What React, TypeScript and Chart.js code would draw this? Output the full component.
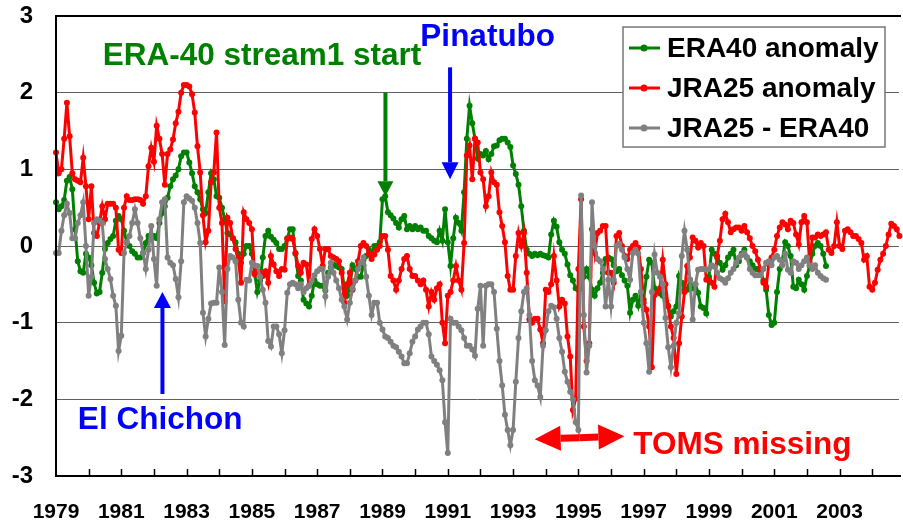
import React, { useEffect, useRef } from 'react';
import { Chart, registerables } from 'chart.js';

Chart.register(...registerables);

const START_YEAR = 1979;
const X_MAX = 2004.82;
const Y_MIN = -3;
const Y_MAX = 3;
const X_LABEL_YEARS = [1979, 1981, 1983, 1985, 1987, 1989, 1991, 1993, 1995, 1997, 1999, 2001, 2003];
const SERIES_LABELS = ['ERA40 anomaly', 'JRA25 anomaly', 'JRA25 - ERA40'];
const SERIES_COLORS = ['#008000', '#ff0000', '#808080'];

// ERA40 anomaly, monthly Jan 1979 .. Aug 2002
const ERA40 = [
  0.57, 0.48, 0.52, 0.6, 0.85, 0.9, 0.74, 0.22, -0.2, -0.33, -0.35, -0.1,
  -0.15, -0.25, -0.48, -0.62, -0.6, -0.35, -0.04, 0.04, 0.09, 0.13, 0.33, 0.39,
  0.35, 0.2, 0.05, 0.0, -0.07, -0.1, -0.15, -0.15, -0.09, 0.04, 0.13, 0.09,
  0.13, 0.1, 0.3, 0.43, 0.52, 0.63, 0.78, 0.87, 0.92, 1.0, 1.17, 1.22,
  1.22, 1.09, 0.95, 0.78, 0.7, 0.61, 0.48, 0.43, 0.7, 0.95, 0.87, 0.65,
  0.63, 0.5, 0.35, 0.17, 0.15, 0.1, 0.05, -0.1, -0.22, -0.1, 0.0, 0.0,
  -0.1, -0.35, -0.6, -0.45, -0.15, 0.13, 0.2, 0.12, 0.08, 0.04, -0.04, -0.04,
  0.0, 0.1, 0.22, 0.22, -0.1, -0.39, -0.45, -0.7, -0.75, -0.79, -0.65, -0.45,
  -0.5, -0.52, -0.52, -0.58, -0.35, -0.28, -0.24, -0.26, -0.28, -0.3, -0.55, -0.65,
  -0.55, -0.25, -0.3, -0.4, -0.4, -0.25, -0.13, -0.05, -0.1, 0.0, 0.0, 0.05,
  0.61, 0.65, 0.44, 0.4, 0.36, 0.3, 0.24, 0.35, 0.39, 0.22, 0.26, 0.22,
  0.26, 0.22, 0.24, 0.2, 0.2, 0.13, 0.1, 0.07, 0.05, 0.2, 0.07, 0.48,
  0.05, -0.26, 0.1, 0.37, 0.3, 0.2, 0.7, 1.4, 1.83, 1.6, 1.4, 1.14,
  1.2, 1.18, 1.24, 1.13, 1.2, 1.3, 1.31, 1.38, 1.4, 1.4, 1.35, 1.29,
  1.05, 0.94, 0.8, 0.52, 0.2, -0.05, -0.1, -0.13, -0.1, -0.12, -0.1, -0.12,
  -0.13, -0.15, 0.15, 0.33, 0.25, 0.05, -0.05, -0.1, -0.24, -0.38, -0.45, -0.55,
  -0.57, -0.55, -0.4, -0.3, -0.4, -0.57, -0.65, -0.55, -0.48, -0.35, -0.17, -0.15,
  -0.17, -0.25, -0.33, -0.3, -0.38, -0.45, -0.52, -0.87, -0.7, -0.65, -0.78, -0.6,
  -0.7, -0.4, -0.18, -0.22, -0.55, -0.6, -0.62, -0.65, -0.7, -0.78, -0.92, -0.85,
  -0.79, -0.39, -0.48, -0.57, -0.57, -0.44, -0.55, -0.5, -0.61, -0.79, -0.81, -0.88,
  -0.4, -0.05, -0.1, -0.15, -0.22, -0.31, -0.25, -0.15, -0.1, -0.05, -0.25, -0.2,
  -0.1, -0.05, -0.15, -0.2, -0.25, -0.3, -0.3, -0.35, -0.45, -0.57, -0.9, -1.03,
  -1.0, -0.6, -0.3, -0.18, 0.05, 0.0, -0.13, -0.53, -0.55, -0.44, -0.5, -0.57,
  -0.39, -0.26, -0.1, 0.0, 0.04, 0.0, -0.1, -0.26,
];

// JRA25 anomaly, monthly Jan 1979 .. Dec 2004
const JRA25 = [
  1.22, 0.95, 1.0, 1.4, 1.87, 1.43, 0.95, 0.87, 0.85, 0.83, 1.15, 0.78,
  0.35, 0.78, 0.17, 0.13, 0.3, 0.52, 0.35, 0.55, 0.55, 0.55, 0.5, -0.05,
  -0.09, 0.5, 0.65, 0.6, 0.6, 0.61, 0.61, 0.6, 0.55, 0.65, 1.04, 1.28,
  1.1, 1.57, 1.4, 1.2, 0.8, 1.2, 1.26, 1.39, 1.6, 1.75, 2.0, 2.1,
  2.1, 2.08, 1.98, 1.74, 1.3, 0.96, 0.4, 0.05, 0.2, 0.83, 0.96, 1.48,
  0.5, 0.3, -0.72, 0.37, 0.3, 0.1, -0.04, -0.17, -0.48, 0.44, 0.35, 0.3,
  0.22, -0.37, -0.33, -0.35, -0.39, -0.33, -0.48, -0.13, -0.24, -0.33, -0.39, -0.3,
  -0.31, 0.09, 0.11, 0.09, -0.09, -0.26, -0.35, -0.22, -0.24, -0.52, 0.09, 0.22,
  0.13, -0.04, -0.26, -0.04, -0.04, -0.13, -0.15, -0.17, -0.2, -0.35, -0.74, -0.5,
  -0.35, -0.57, -0.45, -0.2, 0.0, 0.04, 0.0, -0.1, -0.17, -0.11, -0.05, 0.0,
  0.13, 0.13, -0.05, -0.39, -0.45, -0.57, -0.45, -0.3, -0.17, -0.13, -0.3, -0.39,
  -0.39, -0.45, -0.5, -0.45, -0.57, -0.79, -0.6, -0.7, -0.55, -0.5, -1.0, -1.27,
  -0.65, -0.6, -0.45, -0.26, -0.45, -0.57, 0.04, 1.18, 1.31, 0.87, 1.4, 1.35,
  0.96, 0.87, 0.52, 0.65, 0.96, 0.83, 0.8, 0.44, 0.26, 0.05, -0.39, -0.57,
  -0.57, -0.13, 0.17, 0.0, 0.17, -0.35, -0.96, -1.0, -0.95, -0.95, -1.09, -1.27,
  -0.57, -0.6, -0.5, -0.13, -0.45, -0.79, -0.7, -0.75, -1.18, -1.44, -2.14, -1.99,
  -0.3, 0.61, -1.05, -1.5, -1.27, 0.22, -0.09, 0.17, 0.2, 0.26, 0.26, -0.35,
  -0.35, -0.48, 0.13, 0.17, 0.0, -0.13, -0.17, -0.05, 0.0, 0.04, -0.02, -0.3,
  -0.74, -0.83, -1.05, -1.58, -0.64, -0.6, -0.55, -0.18, -0.5, -0.79, -1.05, -1.2,
  -1.67, -1.27, -0.92, -0.6, -0.26, -0.15, 0.11, 0.07, -0.02, 0.04, 0.0, -0.44,
  -0.44, -0.48, -0.53, -0.13, 0.07, 0.35, 0.42, 0.31, 0.18, 0.22, 0.24, 0.24,
  0.2, 0.26, 0.18, 0.1, 0.0, -0.07, -0.18, -0.31, -0.48, -0.53, -0.24, -0.15,
  -0.05, 0.13, 0.24, 0.31, 0.28, 0.22, 0.33, 0.3, 0.15, 0.02, 0.31, 0.39,
  0.31, -0.22, 0.11, 0.11, 0.15, 0.13, 0.15, 0.18, -0.05, -0.09, 0.0, 0.31,
  0.0, -0.04, 0.2, 0.22, 0.18, 0.13, 0.13, 0.09, 0.04, -0.18, -0.13, -0.53,
  -0.57, -0.48, -0.31, -0.18, -0.1, 0.0, 0.15, 0.29, 0.26, 0.22, 0.13, 0.13,
];

// JRA25 - ERA40, monthly Jan 1979 .. Aug 2002
const DIFF = [
  -0.09, -0.09, 0.2, 0.4, 0.55, 0.43, 0.1, 0.1, 0.3, 0.4, 0.57, 0.0,
  -0.65, -0.4, 0.3, 0.35, 0.33, 0.3, -0.17, -0.3, -0.43, -0.65, -0.78, -1.37,
  -1.17, -0.09, 0.05, 0.13, 0.3, 0.48, 0.3, 0.1, -0.09, -0.3, -0.05, 0.26,
  -0.17, -0.52, 0.35, 0.57, 0.61, -0.15, -0.22, -0.25, -0.43, -0.67, -0.2, 0.57,
  0.65, 0.62, 0.59, 0.5, 0.3, 0.04, -0.87, -1.18, -0.95, -0.75, -0.74, -0.74,
  -0.28, -0.6, -1.29, -0.3, -0.13, -0.15, -0.2, -0.7, -1.0, -1.05, -0.44, -0.45,
  -0.22, -0.25, -0.26, -0.4, -0.57, -0.74, -1.24, -1.31, -1.05, -1.05, -1.15, -1.4,
  -1.1, -0.61, -0.5, -0.48, -0.5, -0.55, -0.5, -0.6, -0.55, -0.52, -0.45, -0.38,
  -0.33, -0.3, -0.3, -0.66, -0.4, -0.22, -0.35, -0.45, -0.55, -0.7, -0.79, -0.96,
  -0.74, -0.55, -0.45, -0.3, -0.22, -0.15, -0.4, -0.65, -0.9, -0.74, -0.74, -1.0,
  -1.09, -1.18, -1.2, -1.25, -1.3, -1.32, -1.38, -1.44, -1.53, -1.53, -1.4, -1.25,
  -1.18, -1.09, -1.05, -1.0, -1.0, -1.15, -1.44, -1.5, -1.55, -1.62, -1.75, -2.3,
  -2.7, -0.95, -1.0, -1.0, -1.05, -1.1, -1.2, -1.3, -1.3, -1.35, -1.43, -0.82,
  -0.52, -1.3, -0.52, -0.5, -0.5, -0.6, -1.08, -1.5, -1.82, -2.2, -2.4, -2.6,
  -2.4, -1.77, -1.2, -0.85, -0.6, -0.55, -0.9, -1.5, -1.75, -1.82, -1.97, -1.3,
  -1.1, -0.85, -0.78, -0.8, -0.95, -1.2, -1.38, -1.64, -1.77, -1.9, -2.0, -2.3,
  -2.4, 0.66, -0.9, -1.65, -1.3, 0.57, 0.0, -0.17, -0.2, -0.3, -0.79, -0.44,
  -0.79, -0.44, 0.0, 0.03, -0.05, -0.15, -0.3, -0.44, -0.09, -0.05, -0.1, -0.6,
  -1.0, -1.27, -1.64, -0.6, -0.11, -0.35, -0.4, -0.5, -0.94, -1.32, -1.58, -1.3,
  -1.0, -0.88, -0.13, 0.2, -0.05, -0.44, -0.96, -0.5, -0.31, -0.3, -0.3, -0.31,
  -0.3, -0.25, -0.27, -0.35, -0.42, -0.44, -0.48, -0.42, -0.35, -0.3, -0.22, -0.15,
  -0.12, -0.09, -0.15, -0.3, -0.35, -0.38, -0.38, -0.38, -0.3, -0.22, -0.2, -0.25,
  -0.15, -0.13, -0.18, -0.25, -0.1, -0.31, -0.35, -0.2, -0.22, -0.3, -0.25, -0.2,
  -0.15, -0.25, -0.3, -0.25, -0.35, -0.39, -0.42, -0.44,
];

const FONT = '"Liberation Sans", Arial, Helvetica, sans-serif';

const toPoints = (arr: number[]) => arr.map((v, i) => ({ x: START_YEAR + i / 12, y: v }));

function drawArrow(ctx: CanvasRenderingContext2D, x1: number, y1: number, x2: number, y2: number,
  color: string, width: number, headLen: number, headW: number) {
  const ang = Math.atan2(y2 - y1, x2 - x1);
  const bx = x2 - headLen * Math.cos(ang);
  const by = y2 - headLen * Math.sin(ang);
  ctx.strokeStyle = color;
  ctx.fillStyle = color;
  ctx.lineWidth = width;
  ctx.lineCap = 'butt';
  ctx.beginPath();
  ctx.moveTo(x1, y1);
  ctx.lineTo(bx, by);
  ctx.stroke();
  const nx = -Math.sin(ang) * headW / 2;
  const ny = Math.cos(ang) * headW / 2;
  ctx.beginPath();
  ctx.moveTo(x2, y2);
  ctx.lineTo(bx + nx, by + ny);
  ctx.lineTo(bx - nx, by - ny);
  ctx.closePath();
  ctx.fill();
}

const overlayPlugin = {
  id: 'overlay',
  afterDatasetsDraw(chart: any) {
    const { ctx, chartArea: a, scales } = chart;
    const xs = scales.x;
    const ys = scales.y;
    const px = (t: number) => xs.getPixelForValue(t);
    const py = (v: number) => ys.getPixelForValue(v);
    ctx.save();

    // frame
    ctx.strokeStyle = '#000';
    ctx.lineWidth = 2;
    ctx.beginPath();
    ctx.moveTo(a.right + 2, a.top);
    ctx.lineTo(a.left, a.top);
    ctx.lineTo(a.left, a.bottom);
    ctx.lineTo(a.right + 2, a.bottom);
    ctx.stroke();

    // inside tick marks on x axis
    ctx.lineWidth = 1.5;
    ctx.beginPath();
    for (let yr = START_YEAR + 1; yr <= Math.floor(X_MAX); yr++) {
      const x = Math.round(px(yr)) + 0.5;
      ctx.moveTo(x, a.bottom);
      ctx.lineTo(x, a.bottom - 7);
    }
    ctx.stroke();

    // annotations
    ctx.font = `bold 31.5px ${FONT}`;
    ctx.textBaseline = 'alphabetic';
    ctx.textAlign = 'left';
    ctx.fillStyle = '#008000';
    ctx.fillText('ERA-40 stream1 start', px(1980.43), py(2.36));
    ctx.fillStyle = '#0000ff';
    ctx.fillText('Pinatubo', px(1990.16), py(2.61));
    ctx.fillText('El Chichon', px(1979.67), py(-2.39));
    ctx.fillStyle = '#ff0000';
    ctx.fillText('TOMS missing', px(1996.68), py(-2.71));

    drawArrow(ctx, px(1989.09), py(2.0), px(1989.09), py(0.65), '#008000', 4, 15, 16);
    drawArrow(ctx, px(1991.07), py(2.33), px(1991.07), py(0.87), '#0000ff', 4, 17, 17);
    drawArrow(ctx, px(1982.26), py(-1.93), px(1982.26), py(-0.6), '#0000ff', 4, 16, 17);
    const tx1 = px(1993.66), ty1 = py(-2.52), tx2 = px(1996.41), ty2 = py(-2.48);
    const mx = (tx1 + tx2) / 2, my = (ty1 + ty2) / 2;
    drawArrow(ctx, mx, my, tx1, ty1, '#ff0000', 7, 26, 25);
    drawArrow(ctx, mx, my, tx2, ty2, '#ff0000', 7, 26, 25);

    // legend
    const lx = a.right - 276;
    const ly = a.top + 11;
    const lw = 262;
    const lh = 120;
    ctx.fillStyle = '#ffffff';
    ctx.fillRect(lx, ly, lw, lh);
    ctx.strokeStyle = '#777777';
    ctx.lineWidth = 1.5;
    ctx.strokeRect(lx, ly, lw, lh);
    ctx.font = `bold 28px ${FONT}`;
    ctx.textBaseline = 'middle';
    SERIES_LABELS.forEach((label, i) => {
      const cy = ly + 21 + i * 40;
      ctx.strokeStyle = SERIES_COLORS[i];
      ctx.fillStyle = SERIES_COLORS[i];
      ctx.lineWidth = 3;
      ctx.beginPath();
      ctx.moveTo(lx + 6, cy);
      ctx.lineTo(lx + 37, cy);
      ctx.stroke();
      ctx.beginPath();
      ctx.arc(lx + 21, cy, 3.5, 0, Math.PI * 2);
      ctx.fill();
      ctx.fillStyle = '#000';
      ctx.fillText(label, lx + 44, cy + 1);
    });
    ctx.restore();
  },
};

export default function App() {
  const canvasRef = useRef<HTMLCanvasElement | null>(null);

  useEffect(() => {
    document.body.style.margin = '0';
    const canvas = canvasRef.current;
    if (!canvas) return;
    const seriesData = [ERA40, JRA25, DIFF];
    const orders = [3, 2, 1];
    const chart = new Chart(canvas, {
      type: 'line',
      data: {
        datasets: seriesData.map((arr, i) => ({
          label: SERIES_LABELS[i],
          data: toPoints(arr),
          borderColor: SERIES_COLORS[i],
          backgroundColor: SERIES_COLORS[i],
          borderWidth: 3,
          pointRadius: 3,
          pointBorderWidth: 0,
          pointBackgroundColor: SERIES_COLORS[i],
          tension: 0,
          fill: false,
          order: orders[i],
          clip: false as any,
        })),
      },
      options: {
        responsive: false,
        animation: false,
        devicePixelRatio: 1,
        layout: { padding: { top: 16, right: 0, bottom: 0, left: 0 } },
        plugins: {
          legend: { display: false },
          tooltip: { enabled: false },
        },
        scales: {
          x: {
            type: 'linear',
            min: START_YEAR,
            max: X_MAX,
            grid: { display: false, drawTicks: false },
            border: { display: false },
            afterFit: (scale: any) => {
              scale.height = 45;
              scale.paddingLeft = 0;
              scale.paddingRight = 0;
            },
            ticks: {
              stepSize: 1,
              autoSkip: false,
              maxRotation: 0,
              minRotation: 0,
              padding: 24,
              color: '#000',
              font: { family: FONT, size: 21, weight: 'bold' },
              callback: (v: any) => (X_LABEL_YEARS.includes(Number(v)) ? String(v) : ''),
            },
          },
          y: {
            type: 'linear',
            min: Y_MIN,
            max: Y_MAX,
            grid: { color: '#606060', lineWidth: 1, drawTicks: false },
            border: { display: false },
            afterFit: (scale: any) => {
              scale.width = 56;
              scale.paddingTop = 0;
              scale.paddingBottom = 0;
            },
            ticks: {
              stepSize: 1,
              padding: 23,
              color: '#000',
              font: { family: FONT, size: 24, weight: 'bold' },
            },
          },
        },
      },
      plugins: [overlayPlugin],
    });
    return () => chart.destroy();
  }, []);

  return (
    <div style={{ width: 903, height: 521, background: '#fff' }}>
      <canvas ref={canvasRef} width={903} height={521} style={{ display: 'block' }} />
    </div>
  );
}
